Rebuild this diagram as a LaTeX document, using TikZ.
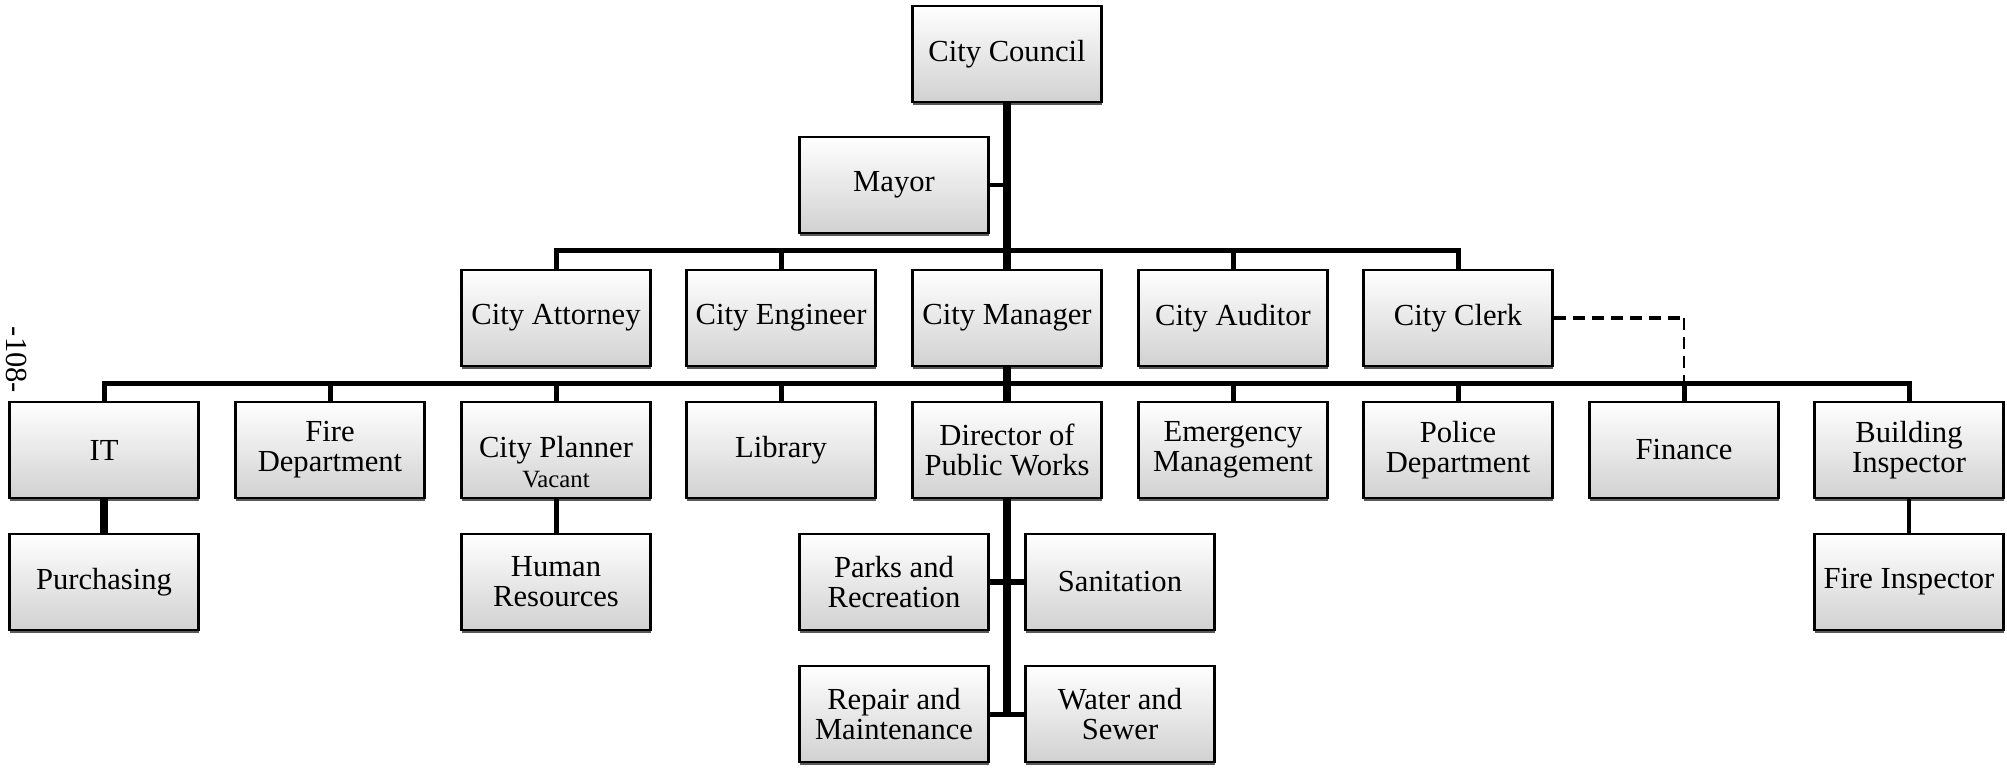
\documentclass[tikz,border=0pt]{standalone}
\usepackage{fontspec}
\setmainfont{Liberation Serif}
\usetikzlibrary{shadows}
\newcommand\orgfont{\fontsize{15.3}{15}\selectfont}
\tikzset{
  box/.style={draw=black, line width=1.2pt, top color=white, bottom color=black!18,
    minimum width=94.5pt, minimum height=48pt, inner sep=1pt, align=center, font=\orgfont,
    drop shadow={shadow xshift=0.4pt, shadow yshift=-1.6pt, fill=black!65, opacity=1}},
  trunk/.style={line width=3.6pt, black},
  bus/.style={line width=2.5pt, black},
  thinlink/.style={line width=2pt, black},
  dashlink/.style={black, dash pattern=on 6pt off 3.5pt},
}
\begin{document}
\begin{tikzpicture}[x=0.5pt, y=-0.5pt]
\useasboundingbox (0,0) rectangle (2007,769);
% page number
\node[rotate=-90, font=\orgfont, inner sep=0pt] (pagenum) at (17,360) {-108-};
% nodes
\node[box] (council) at (1007,54) {City Council};
\node[box] (mayor) at (894,185) {Mayor};
\node[box] (attorney) at (556,318) {City Attorney};
\node[box] (engineer) at (781,318) {City Engineer};
\node[box] (manager) at (1007,318) {City Manager};
\node[box] (auditor) at (1233,318) {City Auditor};
\node[box] (clerk) at (1458,318) {City Clerk};
\node[box] (it) at (104,450) {IT};
\node[box] (fire) at (330,450) {Fire\\Department};
\node[box] (planner) at (556,450) {City Planner};
\node[font=\fontsize{12.4}{13}\selectfont, inner sep=0pt, anchor=base] (vacant) at (556,488) {Vacant};
\node[box] (library) at (781,450) {Library};
\node[box] (director) at (1007,450) {Director of\\Public Works};
\node[box] (emergency) at (1233,450) {Emergency\\Management};
\node[box] (police) at (1458,450) {Police\\Department};
\node[box] (finance) at (1684,450) {Finance};
\node[box] (building) at (1909,450) {Building\\Inspector};
\node[box] (purchasing) at (104,582) {Purchasing};
\node[box] (hr) at (556,582) {Human\\Resources};
\node[box] (parks) at (894,582) {Parks and\\Recreation};
\node[box] (sanitation) at (1120,582) {Sanitation};
\node[box] (fireinsp) at (1909,582) {Fire Inspector};
\node[box] (repair) at (894,714) {Repair and\\Maintenance};
\node[box] (water) at (1120,714) {Water and\\Sewer};
% bus coordinates
\coordinate (b1) at (1007,251);
\coordinate (b2) at (1007,384);
\coordinate (dk) at (1684,318);
% connectors
\draw[dashlink, line width=2pt] (clerk.east) -- (dk);
\draw[dashlink, line width=1.2pt] (dk) -- (finance.north |- b2);
\draw[trunk] (council.south) -- (manager.north);
\draw[thinlink] (mayor.east) -- (mayor.east -| council.south);
\draw[bus] (attorney.north) |- (b1) -| (clerk.north);
\draw[bus] (engineer.north) -- (engineer.north |- b1);
\draw[bus] (auditor.north) -- (auditor.north |- b1);
\draw[trunk] (manager.south) -- (director.north);
\draw[bus] (it.north) |- (b2) -| (building.north);
\draw[bus] (fire.north) -- (fire.north |- b2);
\draw[bus] (planner.north) -- (planner.north |- b2);
\draw[bus] (library.north) -- (library.north |- b2);
\draw[bus] (emergency.north) -- (emergency.north |- b2);
\draw[bus] (police.north) -- (police.north |- b2);
\draw[bus] (finance.north) -- (finance.north |- b2);
\draw[trunk] (it.south) -- (purchasing.north);
\draw[bus] (planner.south) -- (hr.north);
\draw[thinlink] (building.south) -- (fireinsp.north);
\draw[trunk] (director.south) -- ([yshift=-1pt]director.south |- repair.east);
\draw[bus] (parks.east) -- (sanitation.west);
\draw[bus] (repair.east) -- (water.west);
\end{tikzpicture}
\end{document}
